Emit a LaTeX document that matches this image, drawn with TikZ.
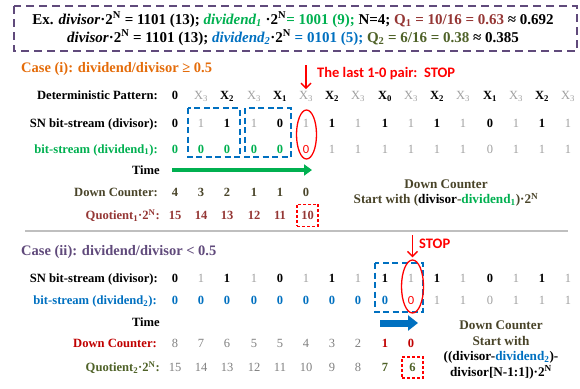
\documentclass[tikz,border=0pt]{standalone}
\usepackage{fontspec}
\setmainfont{Liberation Serif}
\newfontfamily\calibfont{Carlito}
\usepackage{tikz}
\usetikzlibrary{arrows.meta,shapes.geometric}

\definecolor{boxpurple}{HTML}{604A7B}
\definecolor{caseorange}{HTML}{E46C0A}
\definecolor{dvdgreen}{HTML}{00B050}
\definecolor{dvdblue}{HTML}{0070C0}
\definecolor{quored}{HTML}{953735}
\definecolor{quoolive}{HTML}{4F6228}
\definecolor{cntbrown}{HTML}{494429}
\definecolor{cntred}{HTML}{C00000}
\definecolor{bitgray}{HTML}{A0A0A0}
\definecolor{numgray}{HTML}{808080}
\definecolor{stopred}{HTML}{FF0000}
\definecolor{sepgray}{HTML}{BFBFBF}

\begin{document}
\begin{tikzpicture}[x=1pt, y=-1pt]
    \tikzstyle{head text} = [inner sep=0pt, anchor=base, font=\fontsize{15}{16}\selectfont\bfseries]
    \tikzstyle{case title} = [inner sep=0pt, anchor=base west, font=\fontsize{14.5}{16}\selectfont\bfseries]
    \tikzstyle{row label} = [inner sep=0pt, anchor=base east, font=\fontsize{12.6}{14}\selectfont\bfseries]
    \tikzstyle{bit bold} = [inner sep=1pt, anchor=base, font=\fontsize{12.5}{14}\selectfont\bfseries]
    \tikzstyle{bit gray} = [bit bold, text=bitgray, font=\fontsize{12.5}{14}\selectfont]
    \tikzstyle{num gray} = [bit bold, text=numgray, font=\fontsize{12.5}{14}\selectfont]
    \tikzstyle{bit stop} = [bit bold, text=stopred, font=\calibfont\fontsize{12.5}{14}\selectfont]
    \tikzstyle{note text} = [align=center, text=cntbrown, font=\fontsize{13.2}{15.5}\selectfont\bfseries]
    \tikzstyle{stop text} = [inner sep=0pt, anchor=base west, text=stopred, font=\calibfont\fontsize{14.5}{16}\selectfont\bfseries]
    \tikzstyle{stop arrow} = [draw=stopred, line width=1.4pt, -{Straight Barb[length=5pt,width=10pt]}]
    \tikzstyle{stop ring} = [ellipse, draw=stopred, line width=1.3pt, inner sep=0pt]
    \tikzstyle{stop box} = [draw=stopred, line width=1.3pt, dash pattern=on 3pt off 2pt]
    \tikzstyle{pair box} = [draw=dvdblue, line width=1.5pt, dash pattern=on 6pt off 3.5pt]
    \tikzstyle{time arrow} = [-{Triangle[length=8pt,width=11pt]}]
\useasboundingbox (0,0) rectangle (580,388);
% example header
\draw[boxpurple, line width=1.8pt, dash pattern=on 8pt off 5pt] (14,6) rectangle (577,51);
\node[head text] (headA) at (293, 24) {Ex. \textit{divisor}·2\textsuperscript{N} = 1101 (13); \textcolor{dvdgreen}{\textit{dividend\textsubscript{1}}} ·2\textsuperscript{N}\textcolor{dvdgreen}{= 1001 (9);} N=4; \textcolor{quored}{Q\textsubscript{1} = 10/16 = 0.63} ≈ 0.692};
\node[head text] (headB) at (293, 42) {\textit{divisor}·2\textsuperscript{N} = 1101 (13); \textcolor{dvdblue}{\textit{dividend\textsubscript{2}}}·2\textsuperscript{N} \textcolor{dvdblue}{= 0101 (5);} \textcolor{quoolive}{Q\textsubscript{2} = 6/16 = 0.38} ≈ 0.385};
% case (i)
\node[case title, text=caseorange] (caseA) at (21, 72) {Case (i): dividend/divisor ≥ 0.5};
\node[row label] (lpat) at (158, 99.5) {Deterministic Pattern:};
\node[row label] (ldivA) at (158, 127) {SN bit-stream (divisor):};
\node[row label, text=dvdgreen] (ldvdA) at (158, 153) {bit-stream (dividend\textsubscript{1}):};
\node[row label] (ltimeA) at (160, 174.5) {Time};
\node[row label, text=cntbrown] (lcntA) at (158, 196) {Down Counter:};
\node[row label, text=quored] (lquoA) at (160, 219.5) {Quotient\textsubscript{1}·2\textsuperscript{N}:};
\node[bit bold] (p0) at (175, 99.5) {0};
\node[bit gray] (p1) at (201, 99.5) {X\textsubscript{3}};
\node[bit bold] (p2) at (227, 99.5) {X\textsubscript{2}};
\node[bit gray] (p3) at (254, 99.5) {X\textsubscript{3}};
\node[bit bold] (p4) at (280, 99.5) {X\textsubscript{1}};
\node[bit gray] (p5) at (306, 99.5) {X\textsubscript{3}};
\node[bit bold] (p6) at (332, 99.5) {X\textsubscript{2}};
\node[bit gray] (p7) at (358, 99.5) {X\textsubscript{3}};
\node[bit bold] (p8) at (385, 99.5) {X\textsubscript{0}};
\node[bit gray] (p9) at (411, 99.5) {X\textsubscript{3}};
\node[bit bold] (p10) at (437, 99.5) {X\textsubscript{2}};
\node[bit gray] (p11) at (463, 99.5) {X\textsubscript{3}};
\node[bit bold] (p12) at (490, 99.5) {X\textsubscript{1}};
\node[bit gray] (p13) at (516, 99.5) {X\textsubscript{3}};
\node[bit bold] (p14) at (542, 99.5) {X\textsubscript{2}};
\node[bit gray] (p15) at (568, 99.5) {X\textsubscript{3}};
\node[bit bold] (sa0) at (175, 127) {0};
\node[bit gray] (sa1) at (201, 127) {1};
\node[bit bold] (sa2) at (227, 127) {1};
\node[bit gray] (sa3) at (254, 127) {1};
\node[bit bold] (sa4) at (280, 127) {0};
\node[bit gray] (sa5) at (306, 127) {1};
\node[bit bold] (sa6) at (332, 127) {1};
\node[bit gray] (sa7) at (358, 127) {1};
\node[bit bold] (sa8) at (385, 127) {1};
\node[bit gray] (sa9) at (411, 127) {1};
\node[bit bold] (sa10) at (437, 127) {1};
\node[bit gray] (sa11) at (463, 127) {1};
\node[bit bold] (sa12) at (490, 127) {0};
\node[bit gray] (sa13) at (516, 127) {1};
\node[bit bold] (sa14) at (542, 127) {1};
\node[bit gray] (sa15) at (568, 127) {1};
\node[bit bold, text=dvdgreen] (da0) at (175, 153) {0};
\node[bit bold, text=dvdgreen] (da1) at (201, 153) {0};
\node[bit bold, text=dvdgreen] (da2) at (227, 153) {0};
\node[bit bold, text=dvdgreen] (da3) at (254, 153) {0};
\node[bit bold, text=dvdgreen] (da4) at (280, 153) {0};
\node[bit stop] (da5) at (306, 153) {0};
\node[bit gray] (da6) at (332, 153) {1};
\node[bit gray] (da7) at (358, 153) {1};
\node[bit gray] (da8) at (385, 153) {1};
\node[bit gray] (da9) at (411, 153) {1};
\node[bit gray] (da10) at (437, 153) {1};
\node[bit gray] (da11) at (463, 153) {1};
\node[bit gray] (da12) at (490, 153) {0};
\node[bit gray] (da13) at (516, 153) {1};
\node[bit gray] (da14) at (542, 153) {1};
\node[bit gray] (da15) at (568, 153) {1};
\node[bit bold, text=cntbrown] (ca0) at (175, 196) {4};
\node[bit bold, text=cntbrown] (ca1) at (201, 196) {3};
\node[bit bold, text=cntbrown] (ca2) at (227, 196) {2};
\node[bit bold, text=cntbrown] (ca3) at (254, 196) {1};
\node[bit bold, text=cntbrown] (ca4) at (280, 196) {1};
\node[bit bold, text=cntbrown] (ca5) at (306, 196) {0};
\node[bit bold, text=quored] (qa0) at (175, 219.5) {15};
\node[bit bold, text=quored] (qa1) at (201, 219.5) {14};
\node[bit bold, text=quored] (qa2) at (227, 219.5) {13};
\node[bit bold, text=quored] (qa3) at (254, 219.5) {12};
\node[bit bold, text=quored] (qa4) at (280, 219.5) {11};
\node[bit bold, text=quored, stop box, minimum width=21pt, minimum height=22pt] (qa5) at (307.5, 219.5) {10};
\draw[pair box] (188,108) rectangle (240,157);
\draw[pair box] (245,108) rectangle (291,157);
\node[stop ring, minimum width=20pt, minimum height=49pt] (ringA) at (306.5, 134.5) {};
\coordinate (stA) at (306, 65);
\draw[stop arrow, shorten >=1pt] (stA) -- (p5);
\node[stop text] (stopA) at (317, 77) {The last 1-0 pair:\ \ STOP};
\coordinate (tA0) at (172, 170);
\coordinate (tA1) at (312, 170);
\draw[time arrow, dvdgreen, line width=4pt] (tA0) -- (tA1);
\node[note text] (noteA) at (446, 193) {Down Counter\\Start with (\textcolor{black}{divisor}-\textcolor{dvdgreen}{dividend\textsubscript{1}})·2\textsuperscript{N}};
\coordinate (sepL) at (25, 231);
\coordinate (sepR) at (568, 231);
\draw[sepgray, line width=1.2pt] (sepL) -- (sepR);
% case (ii)
\node[case title, text=boxpurple] (caseB) at (21, 255) {Case (ii): dividend/divisor < 0.5};
\node[row label] (ldivB) at (158, 282) {SN bit-stream (divisor):};
\node[row label, text=dvdblue] (ldvdB) at (157, 304.5) {bit-stream (dividend\textsubscript{2}):};
\node[row label] (ltimeB) at (160, 326.5) {Time};
\node[row label, text=cntred] (lcntB) at (157, 347) {Down Counter:};
\node[row label, text=quoolive] (lquoB) at (160, 371.5) {Quotient\textsubscript{2}·2\textsuperscript{N}:};
\node[bit bold] (sb0) at (175, 282) {0};
\node[bit gray] (sb1) at (201, 282) {1};
\node[bit bold] (sb2) at (227, 282) {1};
\node[bit gray] (sb3) at (254, 282) {1};
\node[bit bold] (sb4) at (280, 282) {0};
\node[bit gray] (sb5) at (306, 282) {1};
\node[bit bold] (sb6) at (332, 282) {1};
\node[bit gray] (sb7) at (358, 282) {1};
\node[bit bold] (sb8) at (385, 282) {1};
\node[bit gray] (sb9) at (411, 282) {1};
\node[bit bold] (sb10) at (437, 282) {1};
\node[bit gray] (sb11) at (463, 282) {1};
\node[bit bold] (sb12) at (490, 282) {0};
\node[bit gray] (sb13) at (516, 282) {1};
\node[bit bold] (sb14) at (542, 282) {1};
\node[bit gray] (sb15) at (568, 282) {1};
\node[bit bold, text=dvdblue] (db0) at (175, 304.5) {0};
\node[bit bold, text=dvdblue] (db1) at (201, 304.5) {0};
\node[bit bold, text=dvdblue] (db2) at (227, 304.5) {0};
\node[bit bold, text=dvdblue] (db3) at (254, 304.5) {0};
\node[bit bold, text=dvdblue] (db4) at (280, 304.5) {0};
\node[bit bold, text=dvdblue] (db5) at (306, 304.5) {0};
\node[bit bold, text=dvdblue] (db6) at (332, 304.5) {0};
\node[bit bold, text=dvdblue] (db7) at (358, 304.5) {0};
\node[bit bold, text=dvdblue] (db8) at (385, 304.5) {0};
\node[bit stop] (db9) at (411, 304.5) {0};
\node[bit gray] (db10) at (437, 304.5) {1};
\node[bit gray] (db11) at (463, 304.5) {1};
\node[bit gray] (db12) at (490, 304.5) {0};
\node[bit gray] (db13) at (516, 304.5) {1};
\node[bit gray] (db14) at (542, 304.5) {1};
\node[bit gray] (db15) at (568, 304.5) {1};
\node[num gray] (cb0) at (175, 347) {8};
\node[num gray] (cb1) at (201, 347) {7};
\node[num gray] (cb2) at (227, 347) {6};
\node[num gray] (cb3) at (254, 347) {5};
\node[num gray] (cb4) at (280, 347) {5};
\node[num gray] (cb5) at (306, 347) {4};
\node[num gray] (cb6) at (332, 347) {3};
\node[num gray] (cb7) at (358, 347) {2};
\node[bit bold, text=cntred] (cb8) at (385, 347) {1};
\node[bit bold, text=cntred] (cb9) at (411, 347) {0};
\node[num gray] (qb0) at (175, 371.5) {15};
\node[num gray] (qb1) at (201, 371.5) {14};
\node[num gray] (qb2) at (227, 371.5) {13};
\node[num gray] (qb3) at (254, 371.5) {12};
\node[num gray] (qb4) at (280, 371.5) {11};
\node[num gray] (qb5) at (306, 371.5) {10};
\node[num gray] (qb6) at (332, 371.5) {9};
\node[num gray] (qb7) at (358, 371.5) {8};
\node[bit bold, text=quoolive] (qb8) at (385, 371.5) {7};
\node[bit bold, text=quoolive, stop box, minimum width=21pt, minimum height=21pt] (qb9) at (412.5, 371.5) {6};
\draw[pair box] (375,263) rectangle (423,312);
\node[stop ring, minimum width=22pt, minimum height=53pt] (ringB) at (412.5, 286.5) {};
\coordinate (stB) at (412.5, 235);
\draw[stop arrow, shorten >=2pt] (stB) -- (ringB);
\node[stop text] (stopB) at (419, 248) {STOP};
\coordinate (tB0) at (380, 323);
\coordinate (tB1) at (418, 323);
\draw[time arrow, dvdblue, line width=7pt, -{Triangle[length=10pt,width=15pt]}] (tB0) -- (tB1);
\node[note text] (noteB) at (501, 350) {Down Counter\\Start with\\\textcolor{black}{((divisor-\textcolor{dvdblue}{dividend\textsubscript{2}})-}\\\textcolor{black}{divisor[N-1:1])·2\textsuperscript{N}}};
\end{tikzpicture}
\end{document}
